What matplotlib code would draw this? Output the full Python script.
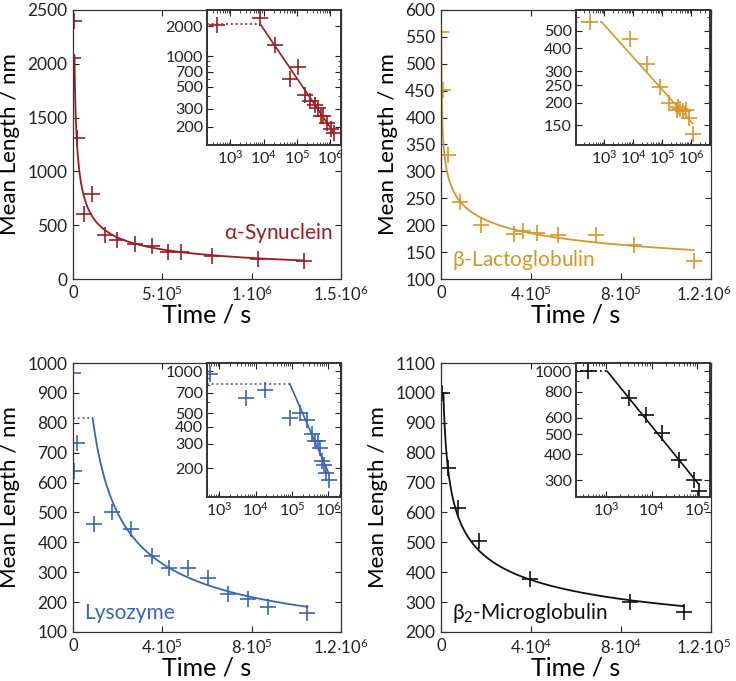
import numpy as np
import matplotlib
matplotlib.use('Agg')
from matplotlib import pyplot as plt
from matplotlib import transforms
from matplotlib.ticker import NullFormatter, FixedLocator, LogLocator

plt.rcParams['font.family'] = ['Lato', 'DejaVu Sans']
plt.rcParams['mathtext.fontset'] = 'custom'
plt.rcParams['mathtext.rm'] = 'Lato'
plt.rcParams['mathtext.it'] = 'Lato:italic'
plt.rcParams['mathtext.bf'] = 'Lato:bold'

# alpha-synuclein
syn_t = [400, 8000, 22000, 63000, 106000, 177000, 246000, 348000, 441000, 534000, 605000, 777000, 1033000, 1292000]
syn_L = [2050, 2400, 1308, 601, 788, 411, 361, 327, 305, 255, 252, 215, 190, 171]
syn_fit = [2080, 8000, 0.49, 1292000]   # plateau, t0, exponent, t_end

# beta-lactoglobulin
lac_t = [330, 7700, 29600, 86000, 178000, 326000, 363000, 427000, 521000, 689000, 859000, 1123000]
lac_L = [559, 452, 330, 244, 200, 183, 190, 185, 181, 182, 164, 134]
lac_fit = [561, 800, 0.1785, 1123000]

# lysozyme
lys_t = [560, 5300, 17900, 92000, 174000, 261000, 353000, 432000, 517000, 606000, 696000, 785000, 874000, 1049000]
lys_L = [965, 640, 733, 463, 502, 443, 353, 314, 314, 280, 227, 211, 184, 164]
lys_fit = [815, 88000, 0.6, 1049000]

# beta2-microglobulin
b2m_t = [400, 3200, 7600, 17000, 39600, 84000, 108000]
b2m_L = [1000, 748, 616, 505, 376, 300, 267]
b2m_fit = [1000, 1050, 0.27, 108000]

W, H = 736, 681


def box(l, t, r, b):
    return [l / W, (H - b) / H, (r - l) / W, (b - t) / H]


def fit_curves(fit, tmin):
    A, t0, a, tend = fit
    tp = np.array([tmin, t0])
    tc = np.geomspace(t0, tend, 300)
    return tp, np.array([A, A]), tc, A * (tc / t0) ** (-a)


def sci(m, e):
    return r'$\mathregular{%s{\cdot}10^{%d}}$' % (m, e)


def panel(main_box, inset_box, t, L, fit, color, name, xlim, ylim, xticks, xlabels,
          ystep, ixlim, iylim, iyticks, ixticks, label_pos, label_ha, last_shift=0):
    ax = fig.add_axes(box(*main_box))
    tp, lp, tc, lc = fit_curves(fit, 0)
    ax.plot(tp, lp, ':', color=color, lw=1.3)
    ax.plot(tc, lc, '-', color=color, lw=1.3)
    ax.plot(t, L, '+', color=color, ms=11, mew=1.2, ls='none')
    ax.set_xlim(*xlim)
    ax.set_ylim(*ylim)
    ax.set_xticks(xticks)
    ax.set_xticklabels(xlabels)
    ax.set_yticks(np.arange(ylim[0], ylim[1] + 1, ystep))
    ax.tick_params(direction='in', top=True, right=True, labelsize=12.5,
                   length=4, width=0.8, colors='#222222', pad=4)
    ax.tick_params(axis='x', labelsize=12)
    if last_shift:
        lab = ax.get_xticklabels()[-1]
        lab.set_transform(lab.get_transform() +
                          transforms.ScaledTranslation(last_shift / 100, 0, fig.dpi_scale_trans))
    ax.set_xlabel('Time / s', fontsize=18, labelpad=0)
    ax.set_ylabel('Mean Length / nm', fontsize=16, labelpad=5)
    for s in ax.spines.values():
        s.set_color('#333333')
        s.set_linewidth(0.9)
    ax.text(label_pos[0], label_pos[1], name, transform=ax.transAxes, color=color,
            fontsize=15, ha=label_ha, va='center')

    ins = fig.add_axes(box(*inset_box))
    tp, lp, tc, lc = fit_curves(fit, ixlim[0])
    ins.plot(tp, lp, ':', color=color, lw=1.3)
    ins.plot(tc, lc, '-', color=color, lw=1.2)
    ins.plot(t, L, '+', color=color, ms=11, mew=1.2, ls='none')
    ins.set_xscale('log')
    ins.set_yscale('log')
    ins.set_xlim(*ixlim)
    ins.set_ylim(*iylim)
    ins.xaxis.set_major_locator(FixedLocator(ixticks))
    ins.xaxis.set_minor_locator(LogLocator(base=10, subs=np.arange(2, 10), numticks=20))
    ins.xaxis.set_minor_formatter(NullFormatter())
    ins.yaxis.set_major_locator(FixedLocator(iyticks))
    ins.yaxis.set_major_formatter(plt.FixedFormatter([str(v) for v in iyticks]))
    ins.yaxis.set_minor_formatter(NullFormatter())
    ins.tick_params(which='both', direction='in', top=True, right=True,
                    labelsize=11.5, colors='#222222', pad=3)
    ins.tick_params(which='major', length=4, width=0.8)
    ins.tick_params(which='minor', length=2, width=0.6)
    for s in ins.spines.values():
        s.set_color('#333333')
        s.set_linewidth(1.4)
    return ax, ins


fig = plt.figure(figsize=(W / 100, H / 100), dpi=100)

panel((73, 10, 341, 279), (207, 10, 341, 145), syn_t, syn_L, syn_fit, '#9b1c22',
      r'$\mathregular{\alpha}$-Synuclein', (0, 1.5e6), (0, 2500),
      [0, 5e5, 1e6, 1.5e6], ['0', sci(5, 5), sci(1, 6), sci(1.5, 6)],
      500, (200, 2.1e6), (131, 2890), [200, 300, 500, 700, 1000, 2000],
      [1e3, 1e4, 1e5, 1e6], (0.97, 0.17), 'right')

panel((441, 10, 711, 279), (576, 10, 710, 145), lac_t, lac_L, lac_fit, '#d8962a',
      r'$\mathregular{\beta}$-Lactoglobulin', (0, 1.2e6), (100, 600),
      [0, 4e5, 8e5, 1.2e6], ['0', sci(4, 5), sci(8, 5), sci(1.2, 6)],
      50, (105, 4.5e6), (117, 653), [150, 200, 250, 300, 400, 500],
      [1e2, 1e3, 1e4, 1e5, 1e6], (0.04, 0.07), 'left', last_shift=-7)

panel((73, 363, 341, 632), (207, 363, 341, 497), lys_t, lys_L, lys_fit, '#3a64b8',
      'Lysozyme', (0, 1.2e6), (100, 1000),
      [0, 4e5, 8e5, 1.2e6], ['0', sci(4, 5), sci(8, 5), sci(1.2, 6)],
      100, (453, 2.3e6), (124, 1150), [200, 300, 400, 500, 700, 1000],
      [1e3, 1e4, 1e5, 1e6], (0.04, 0.07), 'left')

panel((441, 363, 711, 632), (576, 363, 710, 497), b2m_t, b2m_L, b2m_fit, '#111111',
      r'$\mathregular{\beta_2}$-Microglobulin', (0, 1.2e5), (200, 1100),
      [0, 4e4, 8e4, 1.2e5], ['0', sci(4, 4), sci(8, 4), sci(1.2, 5)],
      100, (215, 1.9e5), (249, 1097), [300, 400, 500, 600, 800, 1000],
      [1e3, 1e4, 1e5], (0.04, 0.07), 'left', last_shift=-7)

fig.savefig('out.png', dpi=100)
